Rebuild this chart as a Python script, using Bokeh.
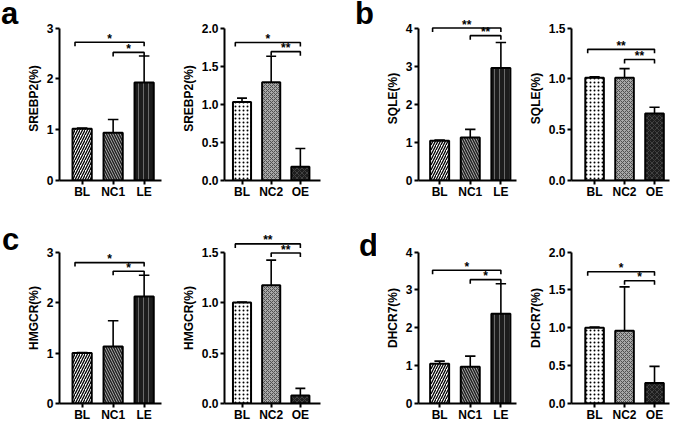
from bokeh.plotting import figure
from bokeh.layouts import row, column
from bokeh.models import Range1d, FixedTicker, ColumnDataSource, Spacer
from bokeh.embed import file_html
from bokeh.resources import INLINE
from bokeh.core.properties import value

# ---------------- data ----------------
groups_le = ["BL", "NC1", "LE"]
groups_oe = ["BL", "NC2", "OE"]

srebp2_le_mean = [1.02, 0.94, 1.93]
srebp2_le_sd = [0.01, 0.26, 0.52]
srebp2_oe_mean = [1.03, 1.29, 0.18]
srebp2_oe_sd = [0.05, 0.34, 0.24]

sqle_le_mean = [1.04, 1.13, 2.95]
sqle_le_sd = [0.02, 0.21, 0.67]
sqle_oe_mean = [1.01, 1.01, 0.66]
sqle_oe_sd = [0.01, 0.09, 0.06]

hmgcr_le_mean = [1.00, 1.13, 2.12]
hmgcr_le_sd = [0.01, 0.51, 0.42]
hmgcr_oe_mean = [1.00, 1.17, 0.08]
hmgcr_oe_sd = [0.005, 0.25, 0.07]

dhcr7_le_mean = [1.05, 0.97, 2.37]
dhcr7_le_sd = [0.07, 0.28, 0.79]
dhcr7_oe_mean = [1.00, 0.96, 0.27]
dhcr7_oe_sd = [0.01, 0.58, 0.22]

# significance brackets (upper: BL vs last, lower: NC vs last)
srebp2_le_sig_y = [2.72, 2.52]
srebp2_le_sig = ["*", "*"]
srebp2_oe_sig_y = [1.81, 1.69]
srebp2_oe_sig = ["*", "**"]
sqle_le_sig_y = [4.00, 3.80]
sqle_le_sig = ["**", "**"]
sqle_oe_sig_y = [1.29, 1.19]
sqle_oe_sig = ["**", "**"]
hmgcr_le_sig_y = [2.79, 2.62]
hmgcr_le_sig = ["*", "*"]
hmgcr_oe_sig_y = [1.58, 1.49]
hmgcr_oe_sig = ["**", "**"]
dhcr7_le_sig_y = [3.52, 3.27]
dhcr7_le_sig = ["*", "*"]
dhcr7_oe_sig_y = [1.74, 1.62]
dhcr7_oe_sig = ["*", "*"]

ticks_3 = [0, 1, 2, 3]
ticks_3_labels = ["0", "1", "2", "3"]
ticks_4 = [0, 1, 2, 3, 4]
ticks_4_labels = ["0", "1", "2", "3", "4"]
ticks_15 = [0, 0.5, 1.0, 1.5]
ticks_15_labels = ["0.0", "0.5", "1.0", "1.5"]
ticks_20 = [0, 0.5, 1.0, 1.5, 2.0]
ticks_20_labels = ["0.0", "0.5", "1.0", "1.5", "2.0"]

panel_letters = ["a", "b", "c", "d"]

# ---------------- styles ----------------
FONT = "Liberation Sans"
style_le = dict(fill=["white", "#b4b4b4", "#1c1c1c"],
                hp=["/", "\\", "|"],
                hc=["black", "#222222", "#6a6a6a"],
                hs=[5.0, 5.0, 5.0],
                hw=[1.3, 1.5, 1.0])
style_oe = dict(fill=["white", "#a8a8a8", "#1e1e1e"],
                hp=[".", "x", "x"],
                hc=["black", "#505050", "#4a4a4a"],
                hs=[4.0, 4.0, 5.0],
                hw=[1.0, 1.0, 0.8])

ROW1 = dict(height=204, mt=16, mb=24, frame_h=164, tick_px=152.5)
ROW2 = dict(height=220, mt=28, mb=21, frame_h=171, tick_px=151.5)
COLS = [dict(width=149, ml=39, mr=8, xr=(-0.73, 2.56)),
        dict(width=161, ml=55, mr=10, xr=(-0.60, 2.69)),
        dict(width=148, ml=42, mr=8, xr=(-0.69, 2.51)),
        dict(width=150, ml=47, mr=5, xr=(-0.77, 2.50))]
LETTER_W = [20, 46]
# letter box: (top offset in row, box height, glyph centre x, centre y from box top)
LETTER_BOX = {"a": (0, 36, 9, 13), "b": (0, 36, 34, 13),
              "c": (18, 40, 10, 17), "d": (20, 40, 38, 20.5)}
STAR_LIFT_PX = 3.5


def letter_strip(txt, w, h):
    top, bh, cx, cy = LETTER_BOX[txt]
    p = figure(width=w, height=bh, x_range=Range1d(0, w), y_range=Range1d(bh, 0),
               output_backend="svg", toolbar_location=None, title=None,
               x_axis_type=None, y_axis_type=None,
               min_border_left=0, min_border_right=0, min_border_top=0, min_border_bottom=0)
    p.outline_line_color = None
    p.grid.visible = False
    p.background_fill_color = "white"
    p.border_fill_color = "white"
    p.text(x=[cx], y=[cy], text=[txt],
           text_font=value(FONT), text_font_style="bold", text_font_size="31px",
           text_baseline="middle", text_align="center", text_color="black")
    items = []
    if top > 0:
        items.append(Spacer(width=w, height=top))
    items.append(p)
    items.append(Spacer(width=w, height=h - top - bh))
    return column(*items)


def make_panel(groups, mean, sd, sig_y, sig, ticks, tick_labels, ylabel, style, rw, cl):
    top_tick = ticks[-1]
    px = top_tick / rw["tick_px"]          # data units per pixel
    ymax = rw["frame_h"] * px
    p = figure(width=cl["width"], height=rw["height"],
               x_range=Range1d(*cl["xr"]), y_range=Range1d(0, ymax),
               output_backend="svg", toolbar_location=None, title=None,
               min_border_left=cl["ml"], min_border_right=cl["mr"],
               min_border_top=rw["mt"], min_border_bottom=rw["mb"])
    p.outline_line_color = None
    p.xgrid.visible = False
    p.ygrid.visible = False
    p.background_fill_color = "white"
    p.border_fill_color = "white"

    xs = list(range(len(groups)))
    src = ColumnDataSource(dict(x=xs, top=mean, fill=style["fill"], hp=style["hp"],
                                hc=style["hc"], hs=style["hs"], hw=style["hw"]))
    p.vbar(x="x", top="top", bottom=0, width=0.62, source=src,
           fill_color="fill", line_color="black", line_width=2,
           hatch_pattern="hp", hatch_color="hc", hatch_scale="hs", hatch_weight="hw")

    err_top = [m + s for m, s in zip(mean, sd)]
    p.segment(x0=xs, y0=mean, x1=xs, y1=err_top, line_color="black", line_width=1.6)
    cap = 0.17
    p.segment(x0=[x - cap for x in xs], y0=err_top, x1=[x + cap for x in xs], y1=err_top,
              line_color="black", line_width=1.6)

    # brackets
    tl = 4.0 * px
    starts = [xs[0] - 0.23, xs[1]]
    ends = [xs[-1], xs[-1]]
    bx = [[a, a, b, b] for a, b in zip(starts, ends)]
    by = [[y - tl, y, y, y - tl] for y in sig_y]
    p.multi_line(xs=bx, ys=by, line_color="black", line_width=1.6)
    p.text(x=[(a + b) / 2 for a, b in zip(starts, ends)],
           y=[y + STAR_LIFT_PX * px for y in sig_y], text=sig,
           text_font=value(FONT), text_font_style="bold", text_font_size="12px",
           text_align="center", text_baseline="alphabetic", text_color="black")

    ya = p.yaxis[0]
    ya.ticker = FixedTicker(ticks=ticks)
    ya.major_label_overrides = {t: l for t, l in zip(ticks, tick_labels)}
    ya.bounds = (0, top_tick)
    ya.axis_label = ylabel
    for ax in (p.xaxis[0], ya):
        ax.axis_line_width = 2
        ax.axis_line_color = "black"
        ax.major_tick_line_width = 2
        ax.major_tick_line_color = "black"
        ax.major_tick_in = 0
        ax.minor_tick_line_color = None
        ax.major_label_text_font = FONT
        ax.major_label_text_font_style = "bold"
        ax.major_label_text_font_size = "12px"
        ax.major_label_text_color = "black"
    ya.major_tick_out = 4
    ya.major_label_standoff = 2
    ya.axis_label_standoff = 3
    ya.axis_label_text_font = FONT
    ya.axis_label_text_font_style = "bold"
    ya.axis_label_text_font_size = "12px"
    ya.axis_label_text_color = "black"

    xa = p.xaxis[0]
    xa.ticker = FixedTicker(ticks=xs)
    xa.major_label_overrides = {x: g for x, g in zip(xs, groups)}
    xa.major_tick_out = 4
    xa.major_label_standoff = 0
    return p


f1 = make_panel(groups_le, srebp2_le_mean, srebp2_le_sd, srebp2_le_sig_y, srebp2_le_sig,
                ticks_3, ticks_3_labels, "SREBP2(%)", style_le, ROW1, COLS[0])
f2 = make_panel(groups_oe, srebp2_oe_mean, srebp2_oe_sd, srebp2_oe_sig_y, srebp2_oe_sig,
                ticks_20, ticks_20_labels, "SREBP2(%)", style_oe, ROW1, COLS[1])
f3 = make_panel(groups_le, sqle_le_mean, sqle_le_sd, sqle_le_sig_y, sqle_le_sig,
                ticks_4, ticks_4_labels, "SQLE(%)", style_le, ROW1, COLS[2])
f4 = make_panel(groups_oe, sqle_oe_mean, sqle_oe_sd, sqle_oe_sig_y, sqle_oe_sig,
                ticks_15, ticks_15_labels, "SQLE(%)", style_oe, ROW1, COLS[3])

g1 = make_panel(groups_le, hmgcr_le_mean, hmgcr_le_sd, hmgcr_le_sig_y, hmgcr_le_sig,
                ticks_3, ticks_3_labels, "HMGCR(%)", style_le, ROW2, COLS[0])
g2 = make_panel(groups_oe, hmgcr_oe_mean, hmgcr_oe_sd, hmgcr_oe_sig_y, hmgcr_oe_sig,
                ticks_15, ticks_15_labels, "HMGCR(%)", style_oe, ROW2, COLS[1])
g3 = make_panel(groups_le, dhcr7_le_mean, dhcr7_le_sd, dhcr7_le_sig_y, dhcr7_le_sig,
                ticks_4, ticks_4_labels, "DHCR7(%)", style_le, ROW2, COLS[2])
g4 = make_panel(groups_oe, dhcr7_oe_mean, dhcr7_oe_sd, dhcr7_oe_sig_y, dhcr7_oe_sig,
                ticks_20, ticks_20_labels, "DHCR7(%)", style_oe, ROW2, COLS[3])

la = letter_strip(panel_letters[0], LETTER_W[0], ROW1["height"])
lb = letter_strip(panel_letters[1], LETTER_W[1], ROW1["height"])
lc = letter_strip(panel_letters[2], LETTER_W[0], ROW2["height"])
ld = letter_strip(panel_letters[3], LETTER_W[1], ROW2["height"])

layout = column(row(la, f1, f2, lb, f3, f4), row(lc, g1, g2, ld, g3, g4))

open("out.html", "w").write(file_html(layout, INLINE))
